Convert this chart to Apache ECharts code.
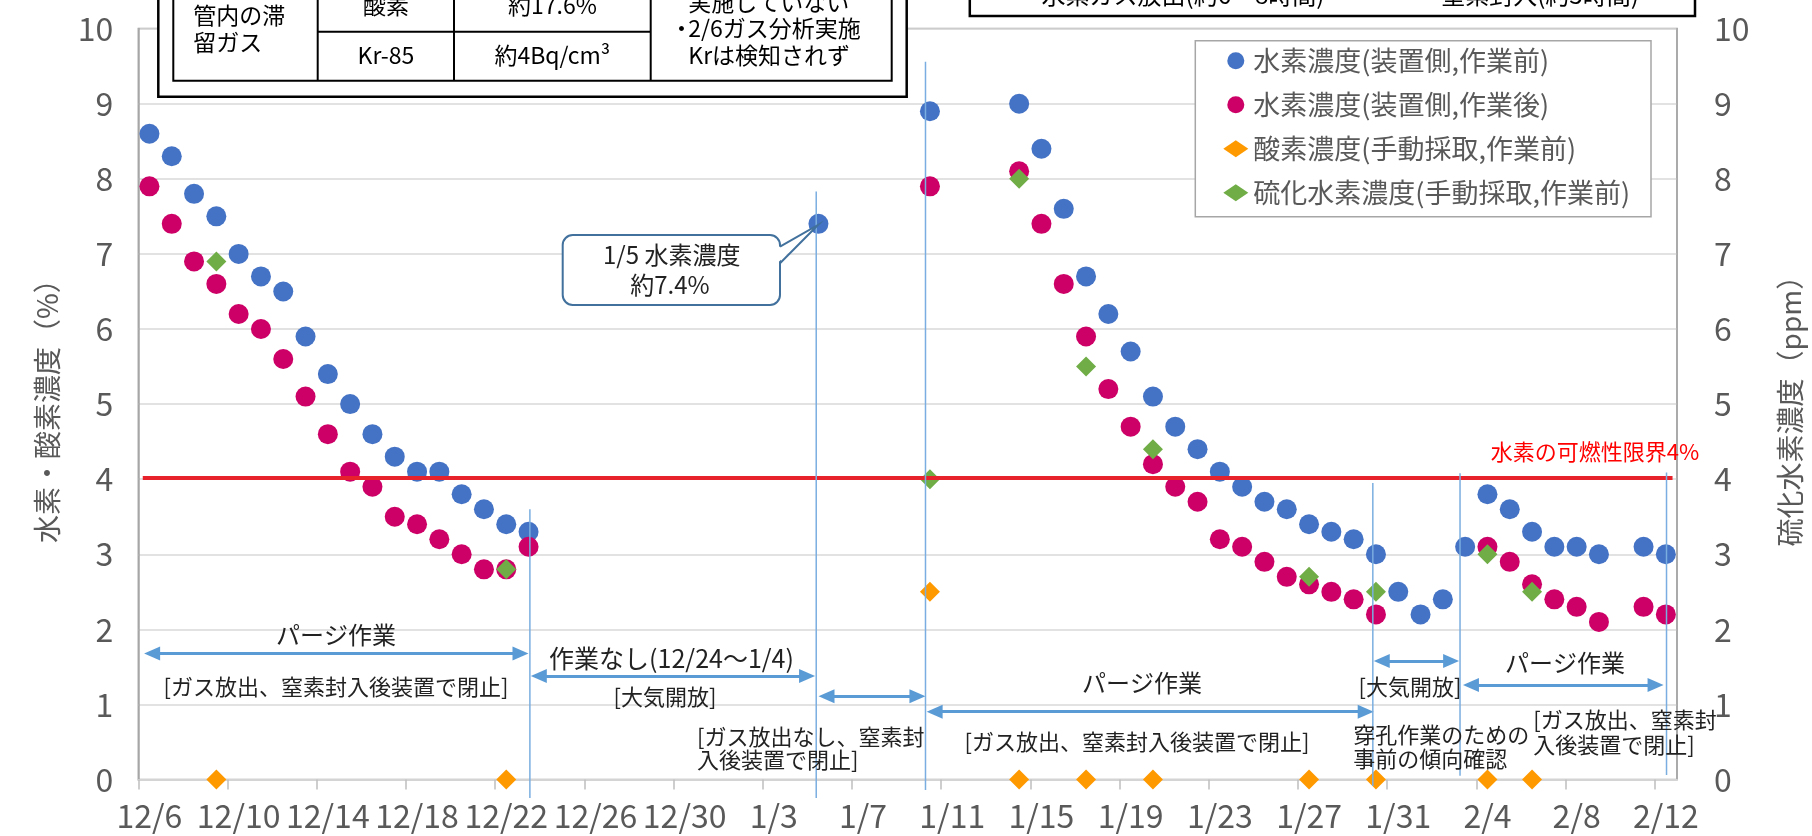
<!DOCTYPE html>
<html>
<head>
<meta charset="utf-8">
<script src="https://cdn.jsdelivr.net/npm/echarts@6/dist/echarts.min.js"></script>
<style>
  html, body { margin: 0; padding: 0; background: #fff; }
  #chart { width: 1812px; height: 836px; }
</style>
</head>
<body>
<div id="chart"></div>
<script>
const FONT = '"Noto Sans CJK JP", "Noto Sans", sans-serif';

// tick labels, one every 4 days starting 12/6
const xTickLabels = ['12/6', '12/10', '12/14', '12/18', '12/22', '12/26', '12/30', '1/3', '1/7',
  '1/11', '1/15', '1/19', '1/23', '1/27', '1/31', '2/4', '2/8', '2/12'];

// [date, %]
const hydrogenBefore = [
  ['12/6', 8.6], ['12/7', 8.3], ['12/8', 7.8], ['12/9', 7.5], ['12/10', 7.0], ['12/11', 6.7],
  ['12/12', 6.5], ['12/13', 5.9], ['12/14', 5.4], ['12/15', 5.0], ['12/16', 4.6], ['12/17', 4.3],
  ['12/18', 4.1], ['12/19', 4.1], ['12/20', 3.8], ['12/21', 3.6], ['12/22', 3.4], ['12/23', 3.3],
  ['1/5', 7.4], ['1/10', 8.9],
  ['1/14', 9.0], ['1/15', 8.4], ['1/16', 7.6], ['1/17', 6.7], ['1/18', 6.2], ['1/19', 5.7],
  ['1/20', 5.1], ['1/21', 4.7], ['1/22', 4.4], ['1/23', 4.1], ['1/24', 3.9], ['1/25', 3.7],
  ['1/26', 3.6], ['1/27', 3.4], ['1/28', 3.3], ['1/29', 3.2], ['1/30', 3.0], ['1/31', 2.5],
  ['2/1', 2.2], ['2/2', 2.4], ['2/3', 3.1], ['2/4', 3.8], ['2/5', 3.6], ['2/6', 3.3],
  ['2/7', 3.1], ['2/8', 3.1], ['2/9', 3.0], ['2/11', 3.1], ['2/12', 3.0]
];

const hydrogenAfter = [
  ['12/6', 7.9], ['12/7', 7.4], ['12/8', 6.9], ['12/9', 6.6], ['12/10', 6.2], ['12/11', 6.0],
  ['12/12', 5.6], ['12/13', 5.1], ['12/14', 4.6], ['12/15', 4.1], ['12/16', 3.9], ['12/17', 3.5],
  ['12/18', 3.4], ['12/19', 3.2], ['12/20', 3.0], ['12/21', 2.8], ['12/22', 2.8], ['12/23', 3.1],
  ['1/10', 7.9],
  ['1/14', 8.1], ['1/15', 7.4], ['1/16', 6.6], ['1/17', 5.9], ['1/18', 5.2], ['1/19', 4.7],
  ['1/20', 4.2], ['1/21', 3.9], ['1/22', 3.7], ['1/23', 3.2], ['1/24', 3.1], ['1/25', 2.9],
  ['1/26', 2.7], ['1/27', 2.6], ['1/28', 2.5], ['1/29', 2.4], ['1/30', 2.2],
  ['2/4', 3.1], ['2/5', 2.9], ['2/6', 2.6], ['2/7', 2.4], ['2/8', 2.3], ['2/9', 2.1],
  ['2/11', 2.3], ['2/12', 2.2]
];

const oxygenManual = [
  ['12/9', 0], ['12/22', 0], ['1/10', 2.5], ['1/14', 0], ['1/17', 0], ['1/20', 0],
  ['1/27', 0], ['1/30', 0], ['2/4', 0], ['2/6', 0]
];

// ppm, right axis
const h2sManual = [
  ['12/9', 6.9], ['12/22', 2.8], ['1/10', 4.0], ['1/14', 8.0], ['1/17', 5.5], ['1/20', 4.4],
  ['1/27', 2.7], ['1/30', 2.5], ['2/4', 3.0], ['2/6', 2.5]
];

const seriesNames = ['水素濃度(装置側,作業前)', '水素濃度(装置側,作業後)', '酸素濃度(手動採取,作業前)', '硫化水素濃度(手動採取,作業前)'];

// days since 12/6; a point sits in the middle of its day like on an Excel date axis
function dayOf(md) {
  const [m, d] = md.split('/').map(Number);
  if (m === 12) return d - 6;
  if (m === 1) return 25 + d;
  return 56 + d;
}
const toXY = rows => rows.map(([md, v]) => [dayOf(md) + 0.5, v]);

const tickPos = xTickLabels.map((_, i) => i * 4);
// labels sit in the middle of their day, ticks on the day boundary
const labelPos = tickPos.map(t => t + 0.5);
const labelStyle = { color: '#595959', fontSize: 32, fontFamily: FONT };

// double headed arrows [from, to, y]  (already pulled in by half an arrow head)
const arrows = [
  [0.62, 17.14, 1.68], [17.96, 29.99, 1.38], [30.86, 34.94, 1.11],
  [35.71, 55.04, 0.905], [55.76, 58.87, 1.58], [59.76, 68.04, 1.26]
];

const chart = echarts.init(document.getElementById('chart'));

const option = {
  animation: false,
  grid: {
    left: 138.3, right: 127.4, top: 28.6, bottom: 56.4,
    show: true, borderColor: '#a6a6a6', borderWidth: 1.5
  },
  legend: {
    orient: 'vertical',
    left: 1195.3, top: 40.7,
    padding: [5, 20, 8, 28],
    itemGap: 14, itemWidth: 25, itemHeight: 17,
    textStyle: { fontSize: 27, lineHeight: 30, color: '#595959', fontFamily: FONT },
    data: [
      { name: seriesNames[0], icon: 'circle' },
      { name: seriesNames[1], icon: 'circle' },
      { name: seriesNames[2], icon: 'diamond' },
      { name: seriesNames[3], icon: 'diamond' }
    ]
  },
  xAxis: {
    type: 'value', min: 0, max: 69,
    axisLine: { lineStyle: { color: '#d4d4d4', width: 2 } },
    splitLine: { show: false },
    axisTick: { show: true, length: 10, customValues: tickPos, lineStyle: { color: '#bfbfbf', width: 1.5 } },
    axisLabel: Object.assign({ customValues: labelPos, margin: 20,
      formatter: v => xTickLabels[Math.round((v - 0.5) / 4)] }, labelStyle)
  },
  yAxis: [
    {
      type: 'value', min: 0, max: 10, interval: 1, position: 'left',
      axisLine: { show: true, lineStyle: { color: '#a6a6a6', width: 1.5 } },
      axisTick: { show: false },
      splitLine: { lineStyle: { color: '#d9d9d9', width: 1.5 } },
      axisLabel: Object.assign({ margin: 25 }, labelStyle),
      name: '水素・酸素濃度（%）', nameLocation: 'middle', nameRotate: 90, nameGap: 77,
      nameTextStyle: { fontSize: 28, color: '#595959', fontFamily: FONT }
    },
    {
      type: 'value', min: 0, max: 10, interval: 1, position: 'right',
      axisLine: { show: true, lineStyle: { color: '#a6a6a6', width: 1.5 } },
      axisTick: { show: false },
      splitLine: { show: false },
      axisLabel: Object.assign({ margin: 37 }, labelStyle),
      name: '硫化水素濃度（ppm）', nameLocation: 'middle', nameRotate: 90, nameGap: 99,
      nameTextStyle: { fontSize: 28, color: '#595959', fontFamily: FONT }
    }
  ],
  series: [
    {
      name: seriesNames[0], type: 'scatter', symbol: 'circle', symbolSize: 20, clip: false,
      itemStyle: { color: '#4472c4', opacity: 1 }, data: toXY(hydrogenBefore)
    },
    {
      name: seriesNames[1], type: 'scatter', symbol: 'circle', symbolSize: 20, clip: false,
      itemStyle: { color: '#cc0066', opacity: 1 }, data: toXY(hydrogenAfter)
    },
    {
      name: seriesNames[2], type: 'scatter', symbol: 'diamond', symbolSize: 20, clip: false,
      itemStyle: { color: '#ff9900', opacity: 1 }, data: toXY(oxygenManual)
    },
    {
      name: seriesNames[3], type: 'scatter', symbol: 'diamond', symbolSize: 20, clip: false, yAxisIndex: 1,
      itemStyle: { color: '#70ad47', opacity: 1 }, data: toXY(h2sManual)
    },
    {
      // 4% flammability limit
      type: 'line', data: [], silent: true,
      markLine: {
        silent: true, animation: false, symbol: 'none', label: { show: false }, z: 6,
        lineStyle: { color: '#e8222a', width: 4, type: 'solid' },
        data: [[{ coord: [0.2, 4.02] }, { coord: [68.8, 4.02] }]]
      }
    },
    {
      type: 'line', data: [], silent: true,
      markLine: {
        silent: true, animation: false, symbol: ['triangle', 'triangle'], symbolSize: [14, 16],
        label: { show: false }, z: 6,
        lineStyle: { color: '#5b9bd5', width: 3, type: 'solid' },
        data: arrows.map(([a, b, y]) => [{ coord: [a, y] }, { coord: [b, y] }])
      }
    }
  ]
};

chart.setOption(option);

// ---- overlay shapes (lines, notes, tables) ----
const px = (u, v) => chart.convertToPixel({ gridIndex: 0 }, [u, v]);
const g = [];

// thin blue period separators [day, top, bottom]
[[17.56, 3.6, -0.245], [30.4, 7.83, -0.245], [35.3, 9.56, -0.14],
 [55.36, 3.95, -0.085], [59.27, 4.08, 0.05], [68.53, 4.09, 0.06]].forEach(([u, t, b]) => {
  const p1 = px(u, t), p2 = px(u, b);
  g.push({ type: 'line', z: 10, silent: true, shape: { x1: p1[0], y1: p1[1], x2: p2[0], y2: p2[1] },
    style: { stroke: '#7aaee0', lineWidth: 1.5 } });
});

function txt(text, x, y, size, opt) {
  g.push(Object.assign({
    type: 'text', z: 12, silent: true, x: x, y: y,
    style: Object.assign({ text: text, fontSize: size, fontFamily: FONT, fill: '#222',
      align: 'center', verticalAlign: 'middle' }, opt || {})
  }));
}

txt('パージ作業', 336, 635, 24);
txt('[ガス放出、窒素封入後装置で閉止]', 336, 686.7, 22);
txt('作業なし(12/24～1/4)', 671.5, 658.3, 25);
txt('[大気開放]', 665, 696.7, 22);
txt('[ガス放出なし、窒素封', 697, 736.7, 22, { align: 'left' });
txt('入後装置で閉止]', 697, 760, 22, { align: 'left' });
txt('パージ作業', 1142, 683.3, 24);
txt('[ガス放出、窒素封入後装置で閉止]', 1137, 741.7, 22);
txt('[大気開放]', 1410, 686.7, 22);
txt('穿孔作業のための', 1353.3, 735, 22, { align: 'left' });
txt('事前の傾向確認', 1353.3, 758.3, 22, { align: 'left' });
txt('パージ作業', 1565, 663.3, 24);
txt('[ガス放出、窒素封', 1533.3, 720, 22, { align: 'left' });
txt('入後装置で閉止]', 1533.3, 745, 22, { align: 'left' });
txt('水素の可燃性限界4%', 1595, 451.7, 22, { fill: '#ff0000' });

// callout for 1/5
g.push({ type: 'rect', z: 14, silent: true, shape: { x: 562.7, y: 235, width: 217.3, height: 70, r: 10 },
  style: { fill: '#fff', stroke: '#41719c', lineWidth: 2 } });
g.push({ type: 'polygon', z: 15, silent: true, shape: { points: [[778, 247.5], [818, 225], [778, 262.5]] },
  style: { fill: '#fff' } });
g.push({ type: 'polyline', z: 15, silent: true, shape: { points: [[780, 246.7], [818, 225], [780, 263.3]] },
  style: { stroke: '#41719c', lineWidth: 2, fill: null } });
g.push({ type: 'text', z: 16, silent: true, x: 671.7, y: 255,
  style: { text: '1/5 水素濃度', fontSize: 24, fontFamily: FONT, fill: '#222', align: 'center', verticalAlign: 'middle' } });
g.push({ type: 'text', z: 16, silent: true, x: 670, y: 285,
  style: { text: '約7.4%', fontSize: 24, fontFamily: FONT, fill: '#222', align: 'center', verticalAlign: 'middle' } });

// legend frame
g.push({ type: 'rect', z: 3, silent: true, shape: { x: 1195.3, y: 40.7, width: 455.7, height: 176 },
  style: { fill: '#fff', stroke: '#a6a6a6', lineWidth: 1.5 } });

// table at the top left (upper part lies off the picture)
const box = (x, y, w, h, lw) => g.push({ type: 'rect', z: 20, silent: true, shape: { x, y, width: w, height: h },
  style: { fill: '#fff', stroke: '#000', lineWidth: lw } });
const seg = (x1, y1, x2, y2) => g.push({ type: 'line', z: 21, silent: true, shape: { x1, y1, x2, y2 },
  style: { stroke: '#000', lineWidth: 2 } });
box(158.3, -40, 748.4, 136.7, 2.5);
box(173.3, -40, 718.4, 120.7, 2);
seg(317.7, -40, 317.7, 80.7);
seg(454, -40, 454, 80.7);
seg(650.7, -40, 650.7, 80.7);
seg(317.7, 31.7, 650.7, 31.7);
const ttxt = (text, x, y, align) => g.push({ type: 'text', z: 22, silent: true, x, y,
  style: { text, fontSize: 23, fontFamily: FONT, fill: '#000', align: align || 'center', verticalAlign: 'middle' } });
ttxt('管内の滞', 193.3, 15, 'left');
ttxt('留ガス', 193.3, 42.7, 'left');
ttxt('酸素', 385.9, 5);
ttxt('約17.6%', 552.4, 5);
ttxt('Kr-85', 385.9, 55);
ttxt('約4Bq/cm³', 552.4, 55);
ttxt('実施していない', 688.3, 2, 'left');
ttxt('・', 670, 28.3, 'left');
ttxt('2/6ガス分析実施', 688.3, 28.3, 'left');
ttxt('Krは検知されず', 688.3, 55, 'left');

// box at the top right (upper part lies off the picture)
box(969.8, -60, 725.2, 76, 2.5);
g.push({ type: 'text', z: 22, silent: true, x: 1183, y: -5,
  style: { text: '水素ガス放出(約6～8時間)', fontSize: 24, fontFamily: FONT, fill: '#000', align: 'center', verticalAlign: 'middle' } });
g.push({ type: 'text', z: 22, silent: true, x: 1540, y: -5,
  style: { text: '窒素封入(約3時間)', fontSize: 24, fontFamily: FONT, fill: '#000', align: 'center', verticalAlign: 'middle' } });

chart.setOption({ graphic: { elements: g } });
</script>
</body>
</html>
